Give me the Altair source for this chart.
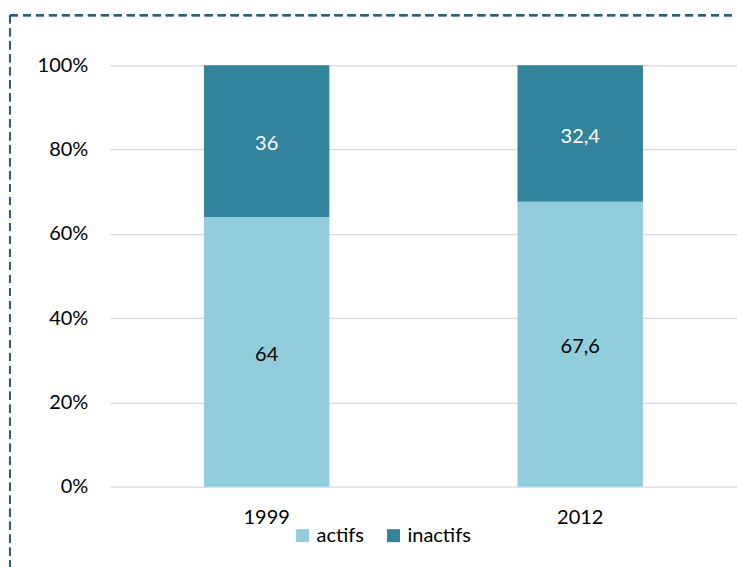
import altair as alt
import pandas as pd

years = ["1999", "1999", "2012", "2012"]
series = ["actifs", "inactifs", "actifs", "inactifs"]
values = [64, 36, 67.6, 32.4]
order = [0, 1, 0, 1]
labels = [str(v).replace(".", ",") for v in values]

df = pd.DataFrame({"year": years, "series": series, "value": values,
                   "ord": order, "label": labels})

FONT = "Lato"
colors = ["#92CDDC", "#31849B"]

base = alt.Chart(df)

x_enc = alt.X("year:N", title=None,
              scale=alt.Scale(paddingInner=0.6, paddingOuter=0.3),
              axis=alt.Axis(labelAngle=0, labelFontSize=20, labelFont=FONT,
                            labelColor="#000000", labelPadding=21,
                            ticks=False, domain=False))

bars = base.mark_bar().encode(
    x=x_enc,
    y=alt.Y("value:Q", stack="zero", title=None,
            scale=alt.Scale(domain=[0, 100]),
            axis=alt.Axis(values=[0, 20, 40, 60, 80, 100],
                          labelExpr="datum.value + '%'",
                          labelFontSize=20, labelFont=FONT, labelColor="#000000",
                          labelPadding=22, ticks=False, domain=False,
                          gridColor="#D9D9D9", gridWidth=1.3)),
    color=alt.Color("series:N", title=None,
                    scale=alt.Scale(domain=["actifs", "inactifs"], range=colors),
                    legend=alt.Legend(orient="none", direction="horizontal",
                                      legendX=183, legendY=461,
                                      symbolType="square", symbolSize=169,
                                      symbolStrokeWidth=0, labelFontSize=20,
                                      labelFont=FONT, labelColor="#000000",
                                      columnPadding=19, labelOffset=4)),
    order=alt.Order("ord:Q"),
)

texts = base.transform_stack(
    stack="value", groupby=["year"], as_=["v0", "v1"],
    sort=[alt.SortField("ord", order="ascending")]
).transform_calculate(
    mid="(datum.v0 + datum.v1) / 2"
).mark_text(fontSize=20, font=FONT, dy=3).encode(
    x=alt.X("year:N"),
    y=alt.Y("mid:Q"),
    text="label:N",
    color=alt.condition(alt.datum.series == "inactifs",
                        alt.value("#FFFFFF"), alt.value("#000000")),
)

dash_color = "#2F6070"
top_line = base.mark_rule(strokeDash=[8, 5], strokeWidth=2, color=dash_color,
                          clip=False).encode(
    x=alt.value(-100), x2=alt.value(700), y=alt.value(-50))
left_line = base.mark_rule(strokeDash=[8, 5], strokeWidth=2, color=dash_color,
                           clip=False).encode(
    x=alt.value(-100), y=alt.value(-50), y2=alt.value(600))

chart = alt.layer(bars, texts, top_line, left_line).properties(
    width=628, height=422,
    padding={"left": 110, "top": 65, "right": 0, "bottom": 80},
    autosize="none",
).configure_view(stroke=None)

chart.save("out.html", embed_options={"renderer": "svg", "actions": False})
